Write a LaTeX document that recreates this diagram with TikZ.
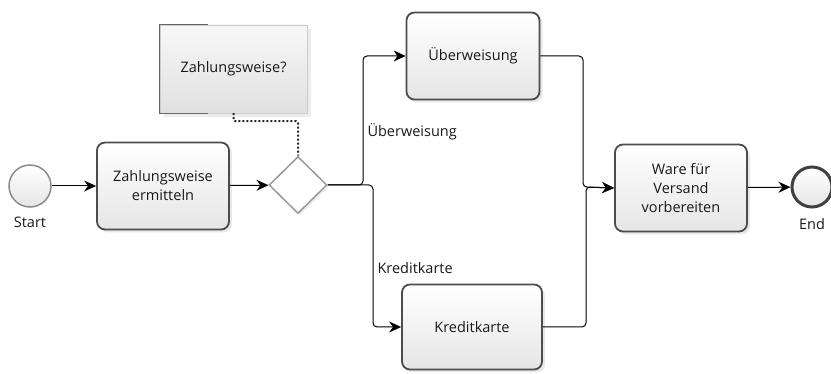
\documentclass[tikz,border=0pt]{standalone}
\usepackage{fontspec}
\setmainfont{Open Sans}
\usetikzlibrary{positioning,shapes.geometric,arrows.meta,shadows,calc}

\begin{document}
\begin{tikzpicture}[x=1pt,y=-1pt,
  font=\fontsize{14.5}{19}\selectfont, text=black!90,
  task/.style={draw=black!70, line width=1.8pt, rounded corners=8pt,
    top color=white, bottom color=black!10, minimum width=132pt,
    minimum height=87pt, align=center,
    drop shadow={opacity=0.18, shadow xshift=3pt, shadow yshift=-3pt}},
  event/.style={circle, line width=1.5pt, top color=white,
    bottom color=black!10, minimum size=42pt, inner sep=0pt},
  gate/.style={diamond, draw=black!40, line width=1.5pt, fill=white,
    minimum width=58pt, minimum height=57pt, inner sep=0pt,
    drop shadow={opacity=0.15, shadow xshift=2pt, shadow yshift=-2pt}},
  flow/.style={-{Stealth[length=12pt,width=11pt]}, line width=1pt,
    rounded corners=4pt},
  assoc/.style={line width=2pt, dotted, black!85, rounded corners=2pt}]

\useasboundingbox (0,0) rectangle (831,374);

%%%%%%%%%%%%%%%%%%%%%%%%%%%% events and tasks %%%%%%%%%%%%%%%%%%%%
\node[event, draw=black!45] (start) at (30,186) {};
\node[below=6pt of start] (startlbl) {Start};
\node[task] (ermitteln) at (163,186) {Zahlungsweise\\ermitteln};
\node[gate] (gw) at (298,185) {};
\node[task, minimum width=133pt] (ueber) at (473,56) {Überweisung};
\node[task, minimum width=140pt, minimum height=85pt] (kredit) at (472,327) {Kreditkarte};
\node[task] (ware) at (681,188) {Ware für\\Versand\\vorbereiten};
\node[event, draw=black!75, line width=3pt, minimum size=40pt] (end) at (812,187) {};
\node[below=6pt of end] (endlbl) {End};

%%%%%%%%%%%%%%%%%%%%%%%%%%%% annotation %%%%%%%%%%%%%%%%%%%%
\node[draw=black!20, top color=black!3, bottom color=black!12,
  minimum width=147pt, minimum height=88pt,
  drop shadow={opacity=0.15, shadow xshift=4pt, shadow yshift=-4pt}]
  (note) at (233.5,69) {Zahlungsweise?};
\draw[black!60, line width=1.2pt] ($(note.north west)+(48,0)$) -- (note.north west)
  -- (note.south west) -- ++(48,0);
\draw[assoc] (note.south) -- ++(0,8) -| (gw.north);

%%%%%%%%%%%%%%%%%%%%%%%%%%%% sequence flows %%%%%%%%%%%%%%%%%%%%
\draw[flow] (start) -- (ermitteln);
\draw[flow] (ermitteln) -- (gw);
\draw[flow] (gw.east) -- (363,185) -- (363,56) -- (ueber.west);
\draw[flow] (gw.east) -- (373,185) -- (373,327) -- (kredit.west);
\draw[flow] (ueber.east) -- (583,56) -- (583,187) -- (ware.west);
\draw[flow] (kredit.east) -- (586,327) -- (586,187) -- (ware.west);
\draw[flow] (ware) -- (end);

\node[anchor=west] (lblueber) at (364,132) {Überweisung};
\node[anchor=west] (lblkredit) at (374,268) {Kreditkarte};

\end{tikzpicture}
\end{document}
